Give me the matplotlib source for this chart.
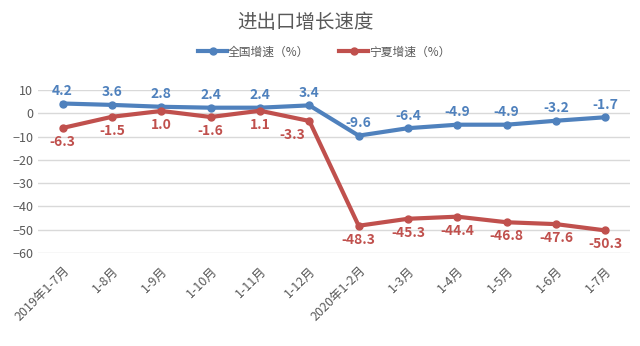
import matplotlib
matplotlib.use("Agg")
import matplotlib.pyplot as plt

plt.rcParams['font.family'] = ['Noto Sans CJK SC', 'DejaVu Sans']

# 月份与两条增速序列
months = ['2019年1-7月', '1-8月', '1-9月', '1-10月', '1-11月', '1-12月',
          '2020年1-2月', '1-3月', '1-4月', '1-5月', '1-6月', '1-7月']
national = [4.2, 3.6, 2.8, 2.4, 2.4, 3.4, -9.6, -6.4, -4.9, -4.9, -3.2, -1.7]
ningxia = [-6.3, -1.5, 1.0, -1.6, 1.1, -3.3, -48.3, -45.3, -44.4, -46.8, -47.6, -50.3]

blue = '#4F81BD'
red = '#C0504D'
grey = '#595959'

fig = plt.figure(figsize=(6.4, 3.46), dpi=100)
ax = fig.add_axes([38 / 640, 1 - 253 / 346, 592 / 640, 163 / 346])

x = list(range(len(months)))
ax.plot(x, national, color=blue, lw=3, marker='o', ms=5, label='全国增速（%）', zorder=3)
ax.plot(x, ningxia, color=red, lw=3, marker='o', ms=5, label='宁夏增速（%）', zorder=3)

for xi, v in zip(x, national):
    ax.annotate(f'{v:.1f}', (xi, v), xytext=(0, 4), textcoords='offset points',
                ha='center', va='bottom', color=blue, fontsize=10, fontweight='bold')
for xi, v in zip(x, ningxia):
    # 1-12月的标签往左挪，避开下降的折线
    dx = -12 if xi == 5 else 0
    ax.annotate(f'{v:.1f}', (xi, v), xytext=(dx, -5), textcoords='offset points',
                ha='center', va='top', color=red, fontsize=10, fontweight='bold')

ax.set_xlim(-0.5, len(months) - 0.5)
ax.set_ylim(-60, 10)
ax.set_yticks(range(-60, 11, 10))
ax.grid(axis='y', color='#d9d9d9', lw=1)
ax.set_axisbelow(True)
for s in ax.spines.values():
    s.set_visible(False)
ax.tick_params(axis='both', length=0, colors=grey, labelsize=9)
ax.set_xticks(x)
ax.set_xticklabels(months, rotation=45, ha='right', va='top', rotation_mode='anchor')
ax.tick_params(axis='x', pad=8)

fig.text(306 / 640, 1 - 22 / 346, '进出口增长速度', ha='center', va='center',
         fontsize=14, color=grey)
fig.legend(loc='center', bbox_to_anchor=(324 / 640, 1 - 52 / 346), ncol=2,
           frameon=False, fontsize=8.5, columnspacing=2.5, handlelength=2.5,
           handletextpad=0.05, labelcolor=grey)

fig.savefig('out.png', dpi=100)
